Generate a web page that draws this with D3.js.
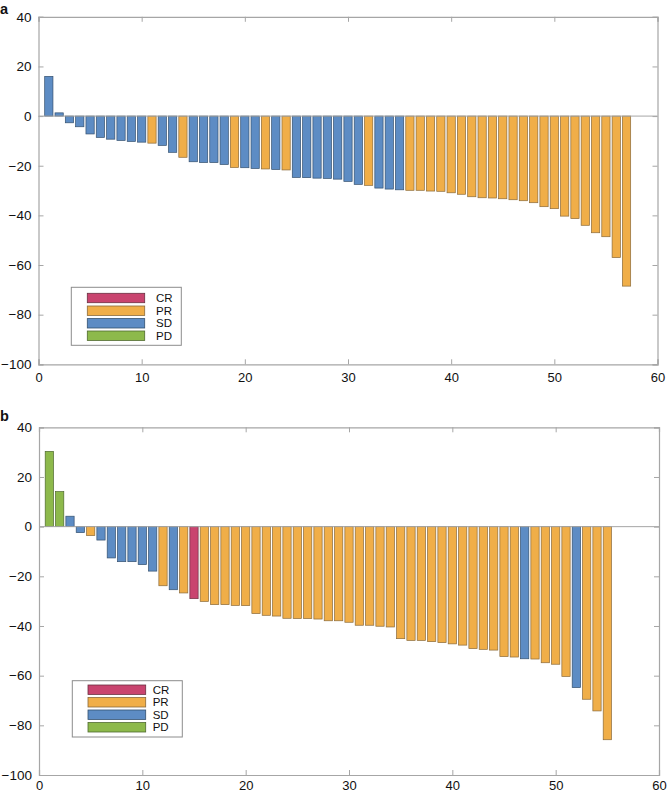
<!DOCTYPE html>
<html>
<head>
<meta charset="utf-8">
<script src="https://cdn.jsdelivr.net/npm/d3@7"></script>
<style>
  html, body { margin: 0; padding: 0; background: #fff; }
  svg { display: block; font-family: "Liberation Sans", Arial, Helvetica, sans-serif; }
</style>
</head>
<body>
<svg id="chart" width="668" height="793"></svg>
<script>
// ---------- data ----------
const categories = ["CR", "PR", "SD", "PD"];

const aValues = [16, 1.3, -2.7, -4.3, -7.2, -8.6, -9.3, -9.8, -10.2, -10.5,
  -10.9, -11.8, -14.6, -16.6, -18.4, -18.7, -18.7, -19.5, -20.7, -20.8,
  -21.1, -21.3, -21.5, -21.7, -24.7, -24.8, -25.0, -25.1, -25.4, -26.3,
  -27.5, -27.9, -29.0, -29.4, -29.7, -29.9, -29.9, -30.2, -30.3, -30.9,
  -31.5, -32.5, -32.9, -33.0, -33.3, -33.7, -34.1, -34.9, -36.5, -37.3,
  -40.3, -41.3, -44.0, -47.0, -48.6, -57.0, -68.5];
const aResp = ["SD","SD","SD","SD","SD","SD","SD","SD","SD","SD",
  "PR","SD","SD","PR","SD","SD","SD","SD","PR","SD",
  "SD","PR","SD","PR","SD","SD","SD","SD","SD","SD",
  "SD","PR","SD","SD","SD","PR","PR","PR","PR","PR",
  "PR","PR","PR","PR","PR","PR","PR","PR","PR","PR",
  "PR","PR","PR","PR","PR","PR","PR"];

const bValues = [30.3, 14.1, 4.2, -2.4, -3.6, -5.4, -12.6, -14.1, -14.1, -15.3,
  -17.9, -23.8, -25.4, -26.7, -29.0, -30.1, -31.4, -31.4, -31.7, -31.8,
  -35.0, -35.7, -36.0, -36.9, -37.0, -37.0, -37.2, -37.9, -37.9, -38.5,
  -39.7, -39.7, -40.1, -40.4, -45.1, -45.8, -45.8, -46.3, -46.7, -47.2,
  -47.7, -49.1, -49.4, -49.7, -52.3, -52.5, -53.2, -53.3, -54.8, -55.4,
  -60.3, -64.8, -69.5, -74.2, -85.8];
const bResp = ["PD","PD","SD","SD","PR","SD","SD","SD","SD","SD",
  "SD","PR","SD","PR","CR","PR","PR","PR","PR","PR",
  "PR","PR","PR","PR","PR","PR","PR","PR","PR","PR",
  "PR","PR","PR","PR","PR","PR","PR","PR","PR","PR",
  "PR","PR","PR","PR","PR","PR","SD","PR","PR","PR",
  "PR","SD","PR","PR","PR"];

const xTicks = [0, 10, 20, 30, 40, 50, 60];
const yTicks = [-100, -80, -60, -40, -20, 0, 20, 40];

// ---------- styles ----------
const fillColor = { CR: "#c9446f", PR: "#f0ae48", SD: "#5d8cc4", PD: "#8db94b" };
const edgeColor = { CR: "#6a3040", PR: "#8a6a3a", SD: "#34506e", PD: "#4f6a2e" };
const axisColor = "#a6a6a6";

const svg = d3.select("#chart");

const panels = [
  { label: "a", values: aValues, resp: aResp,
    x0: 38.5, x1: 657.5, yTop: 16.8, yBot: 364.3, labelY: 13.5, pad: 8.7,
    legend: { x0: 71.3, x1: 181.3, y0: 287.3, y1: 345.3, px0: 87.3, px1: 144.7, tx: 156,
              rows: [298, 310.7, 323.3, 335.7] } },
  { label: "b", values: bValues, resp: bResp,
    x0: 39, x1: 659, yTop: 427.3, yBot: 775, labelY: 421, pad: 5.8,
    legend: { x0: 72.3, x1: 182.3, y0: 680.7, y1: 737, px0: 88, px1: 145.7, tx: 152.7,
              rows: [689.7, 702.3, 714.7, 727.3] } }
];

panels.forEach(p => {
  const x = d3.scaleLinear().domain([0, 60]).range([p.x0, p.x1]);
  const y = d3.scaleLinear().domain([-100, 40]).range([p.yBot, p.yTop]);
  const g = svg.append("g");

  // bars
  const bw = x(0.8) - x(0);
  g.selectAll("rect.bar").data(p.values).enter().append("rect")
    .attr("class", "bar")
    .attr("x", (d, i) => x(i + 1) - bw / 2)
    .attr("width", bw)
    .attr("y", d => y(Math.max(0, d)))
    .attr("height", d => Math.abs(y(d) - y(0)))
    .attr("fill", (d, i) => fillColor[p.resp[i]])
    .attr("stroke", (d, i) => edgeColor[p.resp[i]])
    .attr("stroke-width", 0.7);

  // baseline at 0
  g.append("line")
    .attr("x1", x(0)).attr("x2", x(60))
    .attr("y1", y(0)).attr("y2", y(0))
    .attr("stroke", axisColor).attr("stroke-width", 1);

  // axes (bottom, left with labels; top, right mirrored inward ticks)
  const bottom = g.append("g").attr("transform", `translate(0,${p.yBot})`)
    .call(d3.axisBottom(x).tickValues(xTicks).tickSize(-5).tickPadding(p.pad).tickFormat(d3.format("d")));
  const left = g.append("g").attr("transform", `translate(${p.x0},0)`)
    .call(d3.axisLeft(y).tickValues(yTicks).tickSize(-5).tickPadding(7)
      .tickFormat(d => d < 0 ? "\u2212" + Math.abs(d) : String(d)));
  const top = g.append("g").attr("transform", `translate(0,${p.yTop})`)
    .call(d3.axisTop(x).tickValues(xTicks).tickSize(-5).tickFormat(""));
  const right = g.append("g").attr("transform", `translate(${p.x1},0)`)
    .call(d3.axisRight(y).tickValues(yTicks).tickSize(-5).tickFormat(""));

  [bottom, left, top, right].forEach(ax => {
    ax.select(".domain").attr("stroke", axisColor).attr("stroke-width", 1.2);
    ax.selectAll(".tick line").attr("stroke", axisColor).attr("stroke-width", 1);
    ax.selectAll(".tick text").attr("fill", "#111").style("font-size", "13.5px")
      .style("font-family", "'Liberation Sans', Arial, sans-serif");
  });
  bottom.selectAll(".tick text").style("font-size", "13px");

  // panel label
  svg.append("text").attr("x", 0).attr("y", p.labelY)
    .text(p.label).style("font-weight", "bold").style("font-size", "14.5px").attr("fill", "#111");

  // legend
  const L = p.legend;
  g.append("rect").attr("x", L.x0).attr("y", L.y0)
    .attr("width", L.x1 - L.x0).attr("height", L.y1 - L.y0)
    .attr("fill", "#fff").attr("stroke", "#8c8c8c").attr("stroke-width", 1);
  categories.forEach((c, i) => {
    g.append("rect").attr("x", L.px0).attr("y", L.rows[i] - 4.7)
      .attr("width", L.px1 - L.px0).attr("height", 9.4)
      .attr("fill", fillColor[c]).attr("stroke", edgeColor[c]).attr("stroke-width", 0.8);
    g.append("text").attr("x", L.tx).attr("y", L.rows[i]).attr("dy", "0.36em")
      .text(c).style("font-size", "11.5px").attr("fill", "#111");
  });
});
</script>
</body>
</html>
